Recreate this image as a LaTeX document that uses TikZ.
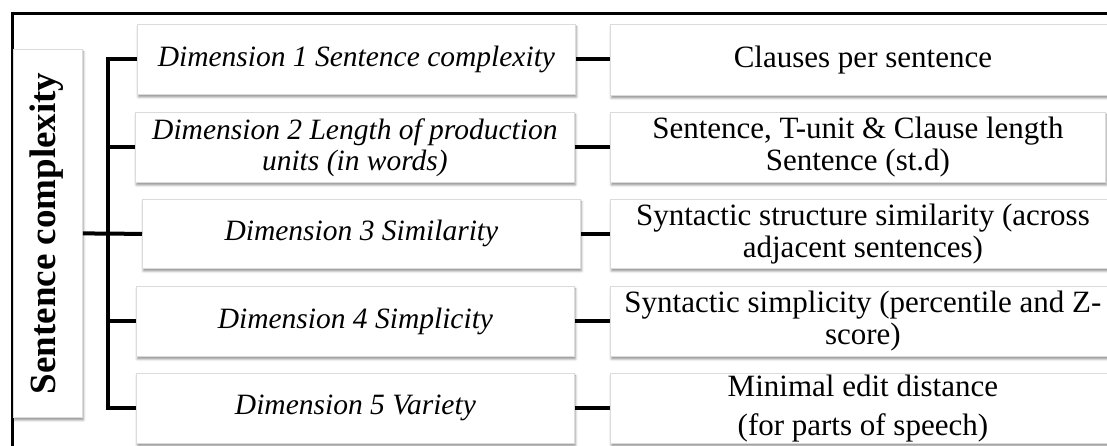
\documentclass[tikz,border=0pt]{standalone}
\usepackage{fontspec}
\setmainfont{Liberation Serif}
\usetikzlibrary{shadows.blur}
\begin{document}
\begin{tikzpicture}[x=1pt,y=-1pt,
  box/.style={draw=black!14, line width=0.8pt, fill=white, inner sep=0pt, anchor=north west,
    blur shadow={shadow xshift=1pt, shadow yshift=-2.5pt, shadow blur radius=2.5pt, shadow opacity=45}},
  dimtext/.style={font=\fontsize{29.5}{31}\selectfont\itshape, align=center},
  meastext/.style={font=\fontsize{31}{32}\selectfont, align=center},
  link/.style={line width=4pt},
  frameline/.style={line width=3pt}]
\useasboundingbox (0,0) rectangle (1107,446);

% outer frame
\draw[frameline] (12,470) -- (12,14) -- (1130,14);

% root box with rotated title
\node[box, minimum width=69pt, minimum height=368pt] (L) at (13,49) {};
\node[rotate=90, font=\fontsize{37}{40}\selectfont\bfseries] (Ltext) at ([xshift=-1pt]L.center) {Sentence complexity};

% dimensions
\node[box, dimtext, minimum width=438pt, minimum height=70pt] (d1) at (137,24) {Dimension 1 Sentence complexity};
\node[box, dimtext, minimum width=439pt, minimum height=70pt] (d2) at (135,112) {Dimension 2 Length of production\\units (in words)};
\node[box, dimtext, minimum width=438pt, minimum height=69pt] (d3) at (142,199) {Dimension 3 Similarity};
\node[box, dimtext, minimum width=438pt, minimum height=70pt] (d4) at (136,286) {Dimension 4 Simplicity};
\node[box, dimtext, minimum width=438pt, minimum height=70pt] (d5) at (136,373) {Dimension 5 Variety};

% measures
\node[box, meastext, minimum width=505pt, minimum height=71pt] (r1) at (610,24) {Clauses per sentence};
\node[box, meastext, minimum width=495pt, minimum height=70pt] (r2) at (610,112) {Sentence, T-unit \& Clause length\\Sentence (st.d)};
\node[box, meastext, minimum width=505pt, minimum height=69pt] (r3) at (610,199) {Syntactic structure similarity (across\\adjacent sentences)};
\node[box, meastext, minimum width=505pt, minimum height=70pt] (r4) at (610,286) {Syntactic simplicity (percentile and Z-\\score)};
\node[box, meastext, minimum width=505pt, minimum height=70pt] (r5) at (610,373) {Minimal edit distance\\[7pt](for parts of speech)};

% tree connectors
\coordinate (tk) at (108,0);
\draw[link] (d1.west) -| (tk |- d5.west) -- (d5.west);
\draw[link] (d2.west) -- (tk |- d2.west);
\draw[link] (d4.west) -- (tk |- d4.west);
\draw[link] (L.east) -- (d3.west);

\draw[link] (d1.east) -- (d1.east -| r1.west);
\draw[link] (d2.east) -- (d2.east -| r2.west);
\draw[link] (d3.east) -- (d3.east -| r3.west);
\draw[link] (d4.east) -- (d4.east -| r4.west);
\draw[link] (d5.east) -- (d5.east -| r5.west);
\end{tikzpicture}
\end{document}
